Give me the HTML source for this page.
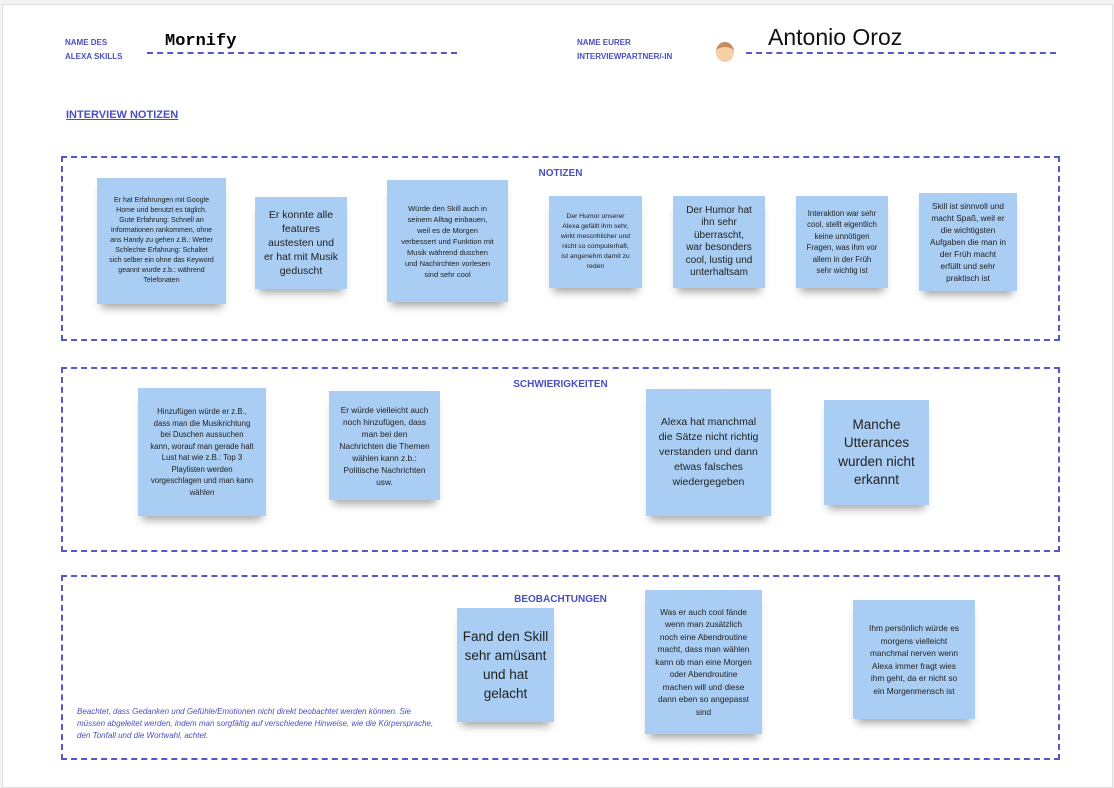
<!DOCTYPE html>
<html><head><meta charset="utf-8"><style>
body{margin:0;width:1114px;height:788px;background:#f3f3f3;font-family:"Liberation Sans",sans-serif;overflow:hidden}
#pg{position:absolute;left:2px;top:4px;width:1109px;height:782px;background:#fff;border:1px solid #ddd}
.a{position:absolute}
.lbl{color:#4a4fc0;font-weight:bold;font-size:8px;line-height:14px}
.dl{position:absolute;border-top:2px dashed #5558c8;height:0}
.box{position:absolute;border:2px dashed #5558c8;box-sizing:border-box}
.ttl{position:absolute;color:#4a4fc0;font-weight:bold;font-size:10px;width:100%;text-align:center}
.s{position:absolute;background:#a9cdf3;display:flex;align-items:center;justify-content:center;text-align:center;color:#222;box-shadow:0 8px 8px -4px rgba(0,0,0,.35);box-sizing:border-box;padding:4px 10px}
</style></head><body><div id="pg"></div>
<div class="a lbl" style="left:65px;top:36px">NAME DES<br>ALEXA SKILLS</div>
<div class="a" style="left:165px;top:32px;font-family:'Liberation Mono',monospace;font-weight:bold;font-size:17px">Mornify</div>
<div class="dl" style="left:147px;top:52px;width:310px"></div>
<div class="a lbl" style="left:577px;top:36px">NAME EURER<br>INTERVIEWPARTNER/-IN</div>
<div class="a" style="left:716px;top:42px;width:18px;height:20px;border-radius:50%;background:#f5cfa8;border-top:5px solid #c9895a;box-sizing:border-box"></div>
<div class="a" style="left:768px;top:24px;font-size:23px;color:#111">Antonio Oroz</div>
<div class="dl" style="left:746px;top:52px;width:310px"></div>
<div class="a" style="left:66px;top:109px;color:#4a4fc0;font-weight:bold;font-size:11px;text-decoration:underline">INTERVIEW NOTIZEN</div>

<div class="box" style="left:61px;top:156px;width:999px;height:185px"><div class="ttl" style="top:10px">NOTIZEN</div></div>
<div class="box" style="left:61px;top:367px;width:999px;height:185px"><div class="ttl" style="top:10px">SCHWIERIGKEITEN</div></div>
<div class="box" style="left:61px;top:575px;width:999px;height:185px"><div class="ttl" style="top:17px">BEOBACHTUNGEN</div></div>

<div class="s" style="left:97px;top:178px;width:129px;height:126px;font-size:7px;line-height:10px;padding:4px 12px">Er hat Erfahrungen mit Google Home und benutzt es täglich. Gute Erfahrung: Schnell an Informationen rankommen, ohne ans Handy zu gehen z.B.: Wetter Schlechte Erfahrung: Schaltet sich selber ein ohne das Keyword geannt wurde z.b.: während Telefonaten</div>
<div class="s" style="left:255px;top:197px;width:92px;height:92px;font-size:10.5px;line-height:14px;padding:4px 8px">Er konnte alle features austesten und er hat mit Musik geduscht</div>
<div class="s" style="left:387px;top:180px;width:121px;height:122px;font-size:7.5px;line-height:11px;padding:8px 14px">Würde den Skill auch in seinem Alltag einbauen, weil es de Morgen verbessert und Funktion mit Musik während duschen und Nachirchten vorlesen sind sehr cool</div>
<div class="s" style="left:549px;top:196px;width:93px;height:92px;font-size:6.8px;line-height:10px">Der Humor unserer Alexa gefällt ihm sehr, wirkt mescnhlicher und nicht so computerhaft, ist angenehm damit zu reden</div>
<div class="s" style="left:673px;top:196px;width:92px;height:92px;font-size:10px;line-height:12.5px;padding:4px 12px">Der Humor hat ihn sehr überrascht, war besonders cool, lustig und unterhaltsam</div>
<div class="s" style="left:796px;top:196px;width:92px;height:92px;font-size:7.8px;line-height:11.5px">Interaktion war sehr cool, stellt eigentlich keine unnötigen Fragen, was ihm vor allem in der Früh sehr wichtig ist</div>
<div class="s" style="left:919px;top:193px;width:98px;height:98px;font-size:8.3px;line-height:12px">Skill ist sinnvoll und macht Spaß, weil er die wichtigsten Aufgaben die man in der Früh macht erfüllt und sehr praktisch ist</div>

<div class="s" style="left:138px;top:388px;width:128px;height:128px;font-size:7.8px;line-height:11.5px;padding:8px 12px">Hinzufügen würde er z.B., dass man die Musikrichtung bei Duschen aussuchen kann, worauf man gerade halt Lust hat wie z.B.: Top 3 Playlisten werden vorgeschlagen und man kann wählen</div>
<div class="s" style="left:329px;top:391px;width:111px;height:109px;font-size:8.3px;line-height:12px;padding:4px 10px">Er würde vielleicht auch noch hinzufügen, dass man bei den Nachrichten die Themen wählen kann z.b.: Politische Nachrichten usw.</div>
<div class="s" style="left:646px;top:389px;width:125px;height:127px;font-size:10.5px;line-height:15px;padding:8px 12px">Alexa hat manchmal die Sätze nicht richtig verstanden und dann etwas falsches wiedergegeben</div>
<div class="s" style="left:824px;top:400px;width:105px;height:105px;font-size:13.5px;line-height:18.5px">Manche Utterances wurden nicht erkannt</div>

<div class="a" style="left:77px;top:706px;color:#4a4fc0;font-style:italic;font-size:8px;line-height:12px;width:360px">Beachtet, dass Gedanken und Gefühle/Emotionen nicht direkt beobachtet werden können. Sie müssen abgeleitet werden, indem man sorgfältig auf verschiedene Hinweise, wie die Körpersprache, den Tonfall und die Wortwahl, achtet.</div>
<div class="s" style="left:457px;top:608px;width:97px;height:114px;font-size:13.5px;line-height:19px;padding:4px 4px">Fand den Skill sehr amüsant und hat gelacht</div>
<div class="s" style="left:645px;top:590px;width:117px;height:144px;font-size:8.3px;line-height:12.5px">Was er auch cool fände wenn man zusätzlich noch eine Abendroutine macht, dass man wählen kann ob man eine Morgen oder Abendroutine machen will und diese dann eben so angepasst sind</div>
<div class="s" style="left:853px;top:600px;width:122px;height:119px;font-size:8.3px;line-height:12.5px;padding:10px 14px">Ihm persönlich würde es morgens vielleicht manchmal nerven wenn Alexa immer fragt wies ihm geht, da er nicht so ein Morgenmensch ist</div>
</body></html>
